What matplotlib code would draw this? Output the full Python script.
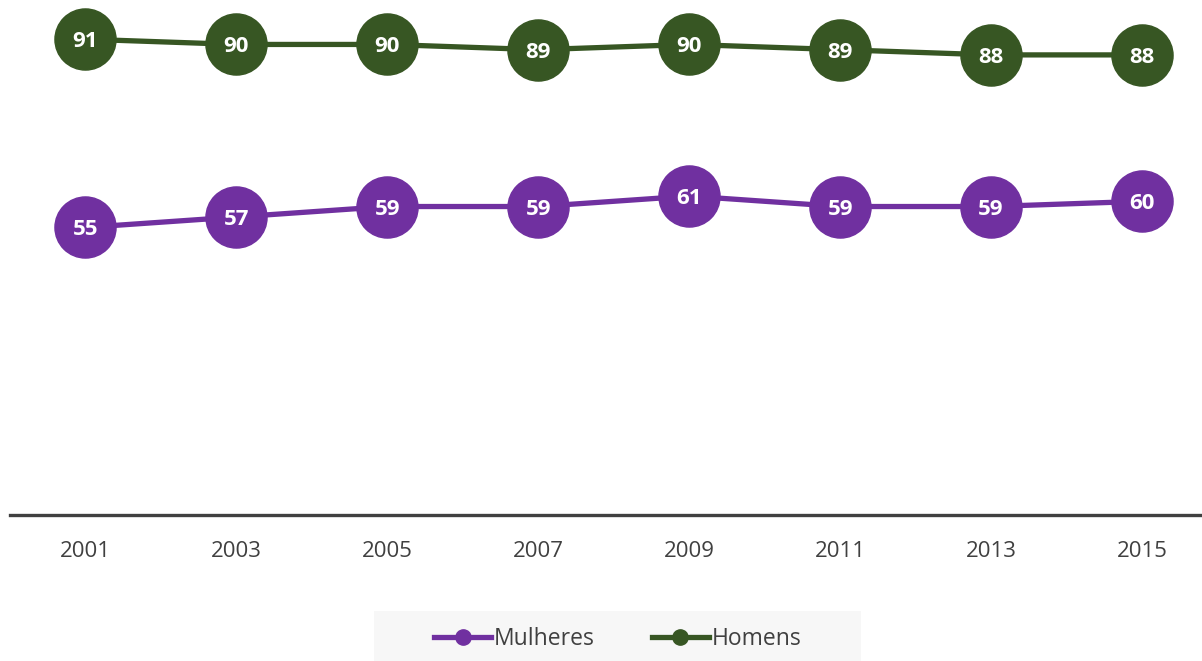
import matplotlib
matplotlib.use("Agg")
import matplotlib.pyplot as plt
from matplotlib.patches import Rectangle

years = ["2001", "2003", "2005", "2007", "2009", "2011", "2013", "2015"]
mulheres = [55, 57, 59, 59, 61, 59, 59, 60]
homens = [91, 90, 90, 89, 90, 89, 88, 88]

PURPLE = "#7030A0"
GREEN = "#375623"
GREY = "#404040"
FONT = "Open Sans"

W, H = 1202, 661
fig = plt.figure(figsize=(W / 100, H / 100), dpi=100)
fig.patch.set_facecolor("white")
ax = fig.add_axes([10 / W, (H - 515) / H, 1192 / W, 515 / H])
ax.set_facecolor("none")

x = list(range(len(years)))
for vals, col, name in [(mulheres, PURPLE, "Mulheres"), (homens, GREEN, "Homens")]:
    ax.plot(x, vals, color=col, lw=3.8, marker="o", ms=44, mec=col, mfc=col,
            clip_on=False, zorder=3, solid_capstyle="round")
    for xi, v in zip(x, vals):
        ax.text(xi, v, str(v), color="white", ha="center", va="center_baseline",
                fontsize=16, fontweight="bold", family=FONT, zorder=4)

ax.set_xlim(-0.5, 7 + 60 / 151)
ax.set_ylim(0, 98.5)
ax.set_yticks([])
ax.set_xticks(x)
ax.set_xticklabels(years, fontsize=16, color=GREY, family=FONT)
ax.tick_params(axis="x", length=0, pad=19)
for s in ["top", "right", "left"]:
    ax.spines[s].set_visible(False)
ax.spines["bottom"].set_color(GREY)
ax.spines["bottom"].set_linewidth(2.4)

# legend background
fig.patches.append(Rectangle((374 / W, 0), (861 - 374) / W, 50 / H,
                             transform=fig.transFigure, facecolor="#F7F7F7",
                             edgecolor="none", zorder=0))
h1, = ax.plot([], [], color=PURPLE, lw=3.8, marker="o", ms=11, label="Mulheres")
h2, = ax.plot([], [], color=GREEN, lw=3.8, marker="o", ms=11, label="Homens")
leg = fig.legend(handles=[h1, h2], loc="center", bbox_to_anchor=(0.5137, 22 / H),
                 ncol=2, frameon=False, prop={"family": FONT, "size": 16.5},
                 handlelength=2.5, handletextpad=0.1, columnspacing=2.5)
for t in leg.get_texts():
    t.set_color(GREY)

fig.savefig("out.png", dpi=100, facecolor="white")
